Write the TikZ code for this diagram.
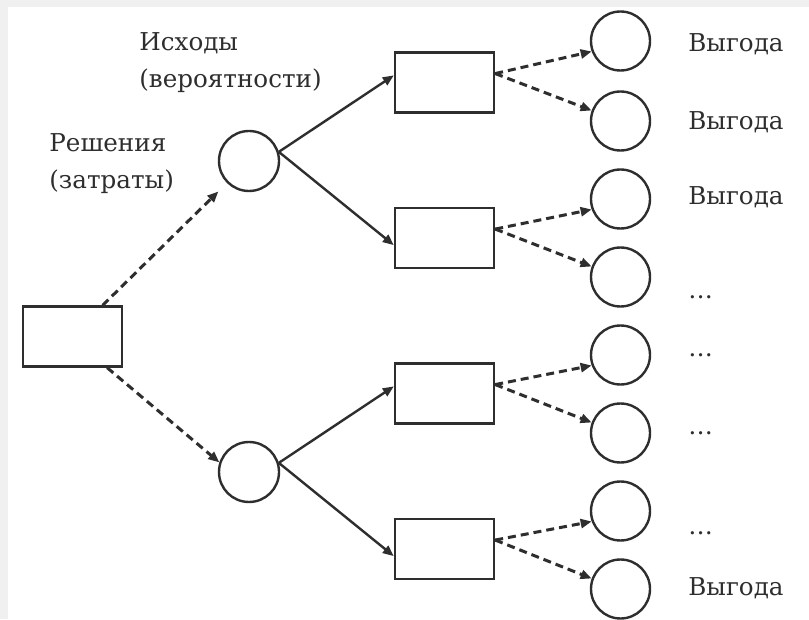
\documentclass[tikz,border=0pt]{standalone}
\usepackage{fontspec}
\setmainfont{DejaVu Serif}
\usetikzlibrary{arrows.meta}
\definecolor{ink}{HTML}{2E2E2E}
\definecolor{frame}{HTML}{F0F0F0}
\tikzset{
  box/.style={draw=ink, line width=1.2pt, minimum width=49.5pt, minimum height=30pt, inner sep=0pt},
  chance/.style={draw=ink, line width=1.2pt, circle, minimum size=30pt, inner sep=0pt},
  leaf/.style={draw=ink, line width=1.2pt, circle, minimum size=29.5pt, inner sep=0pt},
  lbl/.style={text=ink, font=\fontsize{12.3}{18.5}\selectfont, inner sep=0pt},
  choice/.style={draw=ink, line width=1.5pt, dash pattern=on 4pt off 2.5pt, -{Triangle[length=5.5pt,width=4.5pt]}},
  outcome/.style={draw=ink, line width=1.2pt, -{Triangle[length=5.5pt,width=4.5pt]}},
}
\begin{document}
\begin{tikzpicture}[x=0.5pt, y=-0.5pt]
\fill[frame] (0,0) rectangle (809,619);
\fill[white] (8,7) rectangle (809,619);
% decision and chance nodes
\node[box] (root) at (72.5,336.5) {};
\node[chance] (c1) at (249,161) {};
\node[chance] (c2) at (249,472) {};
\foreach \i/\y in {1/82.5,2/238,3/393.5,4/549}
  \node[box] (r\i) at (444.5,\y) {};
\foreach \i/\y in {1/41,2/121,3/199,4/277,5/355,6/433,7/511,8/589}
  \node[leaf] (l\i) at (620.5,\y) {};
% connectors
\draw[choice, shorten >=6pt] (root.46) -- (c1.225);
\draw[choice] (root.-42) -- (c2.162);
\foreach \c/\a/\b in {c1/r1/r2, c2/r3/r4} {
  \draw[outcome] (\c.17) -- (\a.172);
  \draw[outcome] (\c.17) -- (\b.188);
}
\foreach \r/\a/\b in {r1/l1/l2, r2/l3/l4, r3/l5/l6, r4/l7/l8} {
  \draw[choice] (\r.10) -- (\a.200);
  \draw[choice] (\r.10) -- (\b.160);
}
% labels
\node[lbl, anchor=north west, align=left] (outs) at (139,32) {Исходы\\(вероятности)};
\node[lbl, anchor=north west, align=left] (decs) at (49,133) {Решения\\(затраты)};
\foreach \i/\t/\y in {1/Выгода/52, 2/Выгода/130, 3/Выгода/205, 4/{\ldots}/299, 5/{\ldots}/357, 6/{\ldots}/434, 7/{\ldots}/534, 8/Выгода/595}
  \node[lbl, anchor=base west] (g\i) at (688,\y) {\t};
\end{tikzpicture}
\end{document}
